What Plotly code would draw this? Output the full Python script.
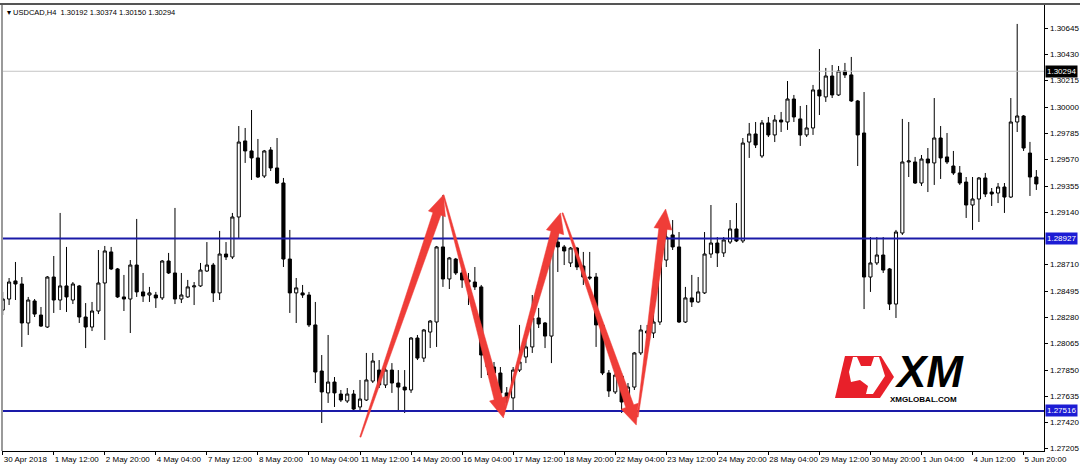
import math
import plotly.graph_objects as go

# ---------------- data (USDCAD, H4) ----------------
opens = [1.28341,1.28431,1.28579,1.28554,1.28235,1.28415,1.28300,1.28202,1.28611,1.28423,
1.28538,1.28423,1.28538,1.28284,1.28202,1.28333,1.28562,1.28816,1.28677,1.28448,
1.28431,1.28709,1.28489,1.28464,1.28464,1.28440,1.28742,1.28644,1.28431,1.28448,
1.28530,1.28538,1.28660,1.28709,1.28481,1.28799,1.28775,1.29102,1.29724,1.29642,
1.29585,1.29437,1.29650,1.29503,1.29380,1.28758,1.28481,1.28481,1.28464,1.28219,
1.27842,1.27663,1.27752,1.27654,1.27597,1.27654,1.27548,1.27605,1.27760,1.27850,
1.27728,1.27850,1.27744,1.27711,1.27687,1.28112,1.27948,1.28161,1.28243,1.28857,
1.28595,1.28758,1.28644,1.28587,1.28570,1.28530,1.27973,1.27875,1.27826,1.27663,
1.27622,1.27850,1.27957,1.28039,1.28276,1.28235,1.28128,1.28897,1.28857,1.28726,
1.28848,1.28701,1.28611,1.28611,1.28219,1.27826,1.27671,1.27801,1.27581,1.27711,
1.27990,1.28153,1.28153,1.28243,1.28750,1.28955,1.28857,1.28243,1.28440,1.28407,
1.28481,1.28799,1.28889,1.28808,1.28897,1.29004,1.28906,1.29715,1.29781,1.29601,
1.29871,1.29773,1.29895,1.29879,1.30067,1.29904,1.29773,1.29830,1.30141,1.30084,
1.30255,1.30100,1.30296,1.30264,1.30051,1.29789,1.28611,1.28726,1.28791,1.28677,
1.28390,1.28971,1.29552,1.29552,1.29380,1.29576,1.29544,1.29748,1.29593,1.29519,
1.29462,1.29388,1.29200,1.29249,1.29421,1.29306,1.29298,1.29347,1.29265,1.29879,
1.29928,1.29625,1.29429]

highs = [1.28489,1.28603,1.28734,1.28611,1.28448,1.28431,1.28366,1.28619,1.28783,1.29135,
1.28857,1.28570,1.28546,1.28398,1.28407,1.28832,1.28865,1.28857,1.28685,1.28628,
1.28750,1.29086,1.28644,1.28530,1.28489,1.28750,1.28808,1.29176,1.28644,1.28587,
1.28570,1.28726,1.28897,1.28726,1.28988,1.28897,1.29135,1.29846,1.29830,1.29977,
1.29740,1.29650,1.29674,1.29748,1.29421,1.28996,1.28603,1.28546,1.28489,1.28407,
1.27973,1.28137,1.27793,1.27687,1.27703,1.27687,1.27769,1.27990,1.27990,1.27932,
1.27907,1.27907,1.27850,1.27850,1.28120,1.28137,1.28186,1.28259,1.28865,1.29282,
1.28775,1.28767,1.28668,1.28644,1.28693,1.28546,1.28014,1.27916,1.27875,1.27711,
1.27875,1.28219,1.28096,1.28464,1.28358,1.28243,1.28873,1.28979,1.28873,1.28857,
1.28857,1.28816,1.28816,1.28644,1.28235,1.27850,1.27826,1.27826,1.27744,1.27998,
1.28219,1.28219,1.28398,1.28914,1.29012,1.29077,1.28979,1.28530,1.28628,1.28611,
1.28979,1.29200,1.28938,1.28938,1.29077,1.29216,1.29748,1.29871,1.29879,1.29895,
1.29920,1.29936,1.29961,1.30214,1.30100,1.30010,1.30018,1.30182,1.30476,1.30321,
1.30345,1.30337,1.30362,1.30411,1.30059,1.30124,1.28938,1.28938,1.28938,1.28685,
1.28996,1.29904,1.29879,1.29593,1.29609,1.29666,1.30075,1.29846,1.29789,1.29642,
1.29519,1.29429,1.29429,1.29429,1.29462,1.29339,1.29380,1.29380,1.30075,1.30681,
1.29936,1.29716,1.29486]

lows = [1.28300,1.28382,1.28423,1.28039,1.28137,1.28284,1.28202,1.28194,1.28317,1.28341,
1.28325,1.28390,1.28235,1.28030,1.28169,1.28308,1.28096,1.28668,1.28440,1.28333,
1.28153,1.28448,1.28407,1.28407,1.28358,1.28423,1.28636,1.28390,1.28398,1.28440,
1.28382,1.28530,1.28652,1.28407,1.28423,1.28750,1.28758,1.28922,1.29544,1.29405,
1.29421,1.29421,1.29478,1.29372,1.28693,1.28317,1.28235,1.28440,1.28202,1.27744,
1.27417,1.27581,1.27548,1.27589,1.27581,1.27523,1.27523,1.27597,1.27744,1.27703,
1.27703,1.27663,1.27523,1.27499,1.27663,1.27932,1.27916,1.28030,1.28039,1.28530,
1.28513,1.28628,1.28522,1.28382,1.28505,1.27785,1.27809,1.27671,1.27581,1.27581,
1.27523,1.27834,1.27907,1.27990,1.28194,1.28030,1.27907,1.28652,1.28709,1.28693,
1.28668,1.28546,1.28587,1.28039,1.27809,1.27630,1.27654,1.27499,1.27515,1.27687,
1.27973,1.28120,1.28112,1.28219,1.28693,1.28832,1.28235,1.28235,1.28366,1.28398,
1.28472,1.28767,1.28693,1.28775,1.28881,1.28897,1.28889,1.29585,1.29666,1.29585,
1.29756,1.29715,1.29797,1.29814,1.29879,1.29683,1.29756,1.29773,1.29936,1.30043,
1.30075,1.30092,1.30239,1.30043,1.29519,1.28349,1.28489,1.28709,1.28644,1.28341,
1.28276,1.28955,1.29429,1.29372,1.29356,1.29306,1.29364,1.29413,1.29535,1.29446,
1.29364,1.29094,1.28996,1.29061,1.29265,1.29192,1.29216,1.29135,1.29257,1.29797,
1.29642,1.29274,1.29323]

closes = [1.28431,1.28570,1.28554,1.28235,1.28423,1.28308,1.28210,1.28611,1.28423,1.28538,
1.28448,1.28554,1.28284,1.28202,1.28333,1.28562,1.28824,1.28677,1.28448,1.28431,
1.28709,1.28489,1.28456,1.28481,1.28440,1.28742,1.28644,1.28431,1.28464,1.28530,
1.28538,1.28668,1.28709,1.28481,1.28799,1.28775,1.29102,1.29715,1.29642,1.29585,
1.29429,1.29642,1.29503,1.29380,1.28758,1.28481,1.28522,1.28464,1.28219,1.27834,
1.27671,1.27752,1.27663,1.27605,1.27654,1.27531,1.27613,1.27769,1.27924,1.27728,
1.27850,1.27744,1.27711,1.27687,1.28112,1.27948,1.28178,1.28251,1.28857,1.28595,
1.28767,1.28644,1.28587,1.28570,1.28530,1.27973,1.27875,1.27826,1.27663,1.27622,
1.27850,1.27916,1.28039,1.28276,1.28227,1.28128,1.28857,1.28857,1.28824,1.28848,
1.28693,1.28611,1.28603,1.28219,1.27826,1.27679,1.27809,1.27589,1.27711,1.27990,
1.28178,1.28169,1.28243,1.28758,1.28938,1.28857,1.28243,1.28440,1.28407,1.28489,
1.28799,1.28889,1.28808,1.28914,1.29004,1.28906,1.29707,1.29781,1.29691,1.29871,
1.29773,1.29895,1.29879,1.30067,1.29920,1.29773,1.29830,1.30141,1.30092,1.30255,
1.30100,1.30296,1.30264,1.30051,1.29773,1.28611,1.28726,1.28791,1.28668,1.28390,
1.28979,1.29552,1.29560,1.29380,1.29576,1.29544,1.29748,1.29585,1.29552,1.29462,
1.29380,1.29200,1.29249,1.29421,1.29290,1.29290,1.29347,1.29265,1.29879,1.29928,
1.29666,1.29429,1.29372]

time_labels = ["30 Apr 2018", "1 May 12:00", "2 May 20:00", "4 May 04:00", "7 May 12:00",
               "8 May 20:00", "10 May 04:00", "11 May 12:00", "14 May 20:00", "16 May 04:00",
               "17 May 12:00", "18 May 20:00", "22 May 04:00", "23 May 12:00", "24 May 20:00",
               "28 May 04:00", "29 May 12:00", "30 May 20:00", "1 Jun 04:00", "4 Jun 12:00",
               "5 Jun 20:00"]
label_every = 8

price_ticks = [1.30645, 1.30430, 1.30215, 1.30000, 1.29785, 1.29570, 1.29355, 1.29140,
               1.28710, 1.28495, 1.28280, 1.28065, 1.27850, 1.27635, 1.27420, 1.27205]

support_level = 1.27516
resistance_level = 1.28927
bid_level = 1.30294
header = "USDCAD,H4  1.30192 1.30374 1.30150 1.30294"

# arrows: (tail bar, tail price, tip bar, tip price)
arrows = [
    (56.05, 1.27302, 69.07, 1.29282),
    (69.07, 1.29282, 78.48, 1.27458),
    (78.48, 1.27482, 87.42, 1.29135),
    (87.73, 1.29135, 99.30, 1.27400),
    (99.50, 1.27466, 103.90, 1.29167),
]

# ---------------- layout geometry ----------------
W_FIG, H_FIG = 1080, 468
ML, MR, MT, MB = 2, 36, 4, 17
PW, PH = W_FIG - ML - MR, H_FIG - MT - MB
XR = [-0.11, 163.2]
YR = [1.27188, 1.30844]
FONT = "Liberation Sans, Arial, sans-serif"


def to_px(xd, yd):
    return (ML + (xd - XR[0]) / (XR[1] - XR[0]) * PW,
            MT + (YR[1] - yd) / (YR[1] - YR[0]) * PH)


def to_data(px, py):
    return (XR[0] + (px - ML) / PW * (XR[1] - XR[0]),
            YR[1] - (py - MT) / PH * (YR[1] - YR[0]))


def px2paper(px, py):
    return ((px - ML) / PW, 1 - (py - MT) / PH)


n = len(opens)
xs = list(range(n))

fig = go.Figure()
fig.add_trace(go.Candlestick(
    x=xs, open=opens, high=highs, low=lows, close=closes,
    increasing=dict(fillcolor="white", line=dict(color="black", width=1)),
    decreasing=dict(fillcolor="black", line=dict(color="black", width=1)),
    whiskerwidth=0, showlegend=False, hoverinfo="skip",
))

shapes = []
shapes.append(dict(type="line", xref="x domain", yref="y", x0=0, x1=1, y0=bid_level, y1=bid_level,
                   line=dict(color="#c4c4c4", width=1), layer="above"))
for lvl in (resistance_level, support_level):
    shapes.append(dict(type="line", xref="x domain", yref="y", x0=0, x1=1, y0=lvl, y1=lvl,
                       line=dict(color="#1a1aa8", width=2), layer="above"))

for (tx, ty, hx, hy) in arrows:
    x1, y1 = to_px(tx, ty)
    x2, y2 = to_px(hx, hy)
    dx, dy = x2 - x1, y2 - y1
    L = math.hypot(dx, dy)
    ux, uy = dx / L, dy / L
    nx, ny = -uy, ux
    head_len, head_w, shaft_w, tail_w = 20, 9, 4.2, 0.6
    bx, by = x2 - ux * head_len, y2 - uy * head_len
    pts = [
        (x1 + nx * tail_w, y1 + ny * tail_w),
        (bx + nx * shaft_w, by + ny * shaft_w),
        (bx + nx * head_w, by + ny * head_w),
        (x2, y2),
        (bx - nx * head_w, by - ny * head_w),
        (bx - nx * shaft_w, by - ny * shaft_w),
        (x1 - nx * tail_w, y1 - ny * tail_w),
    ]
    path = ""
    for i, (px, py) in enumerate(pts):
        xd, yd = to_data(px, py)
        path += ("M" if i == 0 else "L") + f"{xd:.4f},{yd:.6f}"
    path += "Z"
    shapes.append(dict(type="path", xref="x", yref="y", path=path,
                       fillcolor="#ef3d38", line=dict(color="#ef3d38", width=0.5), layer="above"))

shapes.append(dict(type="line", xref="paper", yref="paper", x0=0, x1=0, y0=0, y1=1,
                   line=dict(color="#9a9a9a", width=2)))
shapes.append(dict(type="line", xref="paper", yref="paper", x0=-0.01, x1=1.04, y0=1, y1=1,
                   line=dict(color="#555555", width=2)))


def poly_paper(pts):
    s = ""
    for i, (px, py) in enumerate(pts):
        a, b = px2paper(px, py)
        s += ("M" if i == 0 else "L") + f"{a:.5f},{b:.5f}"
    return s + "Z"


red_poly = [(845, 356), (881, 356), (894, 377), (880, 398), (835, 398)]
bull = [(853, 357), (857, 357), (861, 366), (871, 366), (874, 357), (879, 357),
        (885, 376), (873, 394), (866, 394), (868, 386), (860, 380), (851, 382), (849, 372)]
shapes.append(dict(type="path", xref="paper", yref="paper", path=poly_paper(red_poly),
                   fillcolor="#e8202a", line=dict(width=0), layer="above"))
shapes.append(dict(type="path", xref="paper", yref="paper", path=poly_paper(bull),
                   fillcolor="white", line=dict(width=0), layer="above"))

annotations = []
annotations.append(dict(xref="paper", yref="paper", x=0, y=1, xanchor="left", yanchor="top",
                        xshift=3, yshift=-2, showarrow=False,
                        text="▾ " + header,
                        font=dict(family=FONT, size=7.5, color="black")))

for v in price_ticks:
    annotations.append(dict(xref="x domain", yref="y", x=1, y=v, xanchor="left", yanchor="middle",
                            xshift=4, showarrow=False, text=f"{v:.5f}",
                            font=dict(family=FONT, size=8, color="black")))

for lvl, bg in ((bid_level, "black"), (resistance_level, "#1c1cd4"), (support_level, "#1c1cd4")):
    annotations.append(dict(xref="x domain", yref="y", x=1, y=lvl, xanchor="left", yanchor="middle",
                            xshift=1, showarrow=False, text=f"{lvl:.5f}", bgcolor=bg, borderpad=1,
                            font=dict(family=FONT, size=8, color="white")))

lx, ly = px2paper(929, 371)
annotations.append(dict(xref="paper", yref="paper", x=lx, y=ly, xanchor="center", yanchor="middle",
                        showarrow=False, text="<b><i>XM</i></b>", height=36, valign="middle",
                        font=dict(family=FONT, size=44, color="black")))
lx, ly = px2paper(923, 399)
annotations.append(dict(xref="paper", yref="paper", x=lx, y=ly, xanchor="center", yanchor="middle",
                        showarrow=False, text="<b>XMGLOBAL.COM</b>",
                        font=dict(family=FONT, size=8, color="black")))

fig.update_layout(
    width=W_FIG, height=H_FIG,
    margin=dict(l=ML, r=MR, t=MT, b=MB, pad=0, autoexpand=False),
    paper_bgcolor="white", plot_bgcolor="white",
    showlegend=False,
    shapes=shapes, annotations=annotations,
    xaxis=dict(range=XR, rangeslider=dict(visible=False), showgrid=False, zeroline=False,
               automargin=False,
               tickmode="array", tickvals=[i * label_every for i in range(len(time_labels))],
               ticktext=time_labels, ticks="outside", ticklen=3, tickcolor="black",
               tickangle=0, ticklabelposition="outside right",
               showline=True, linecolor="black", linewidth=1,
               tickfont=dict(family=FONT, size=8, color="black")),
    yaxis=dict(range=YR, side="right", showgrid=False, zeroline=False, automargin=False,
               tickmode="array", tickvals=price_ticks, showticklabels=False,
               ticks="outside", ticklen=3, tickcolor="black",
               showline=True, linecolor="black", linewidth=1),
)

fig.write_html("out.html", config={"displayModeBar": False},
               post_script="document.body.style.margin='0';document.body.style.overflow='hidden';")
